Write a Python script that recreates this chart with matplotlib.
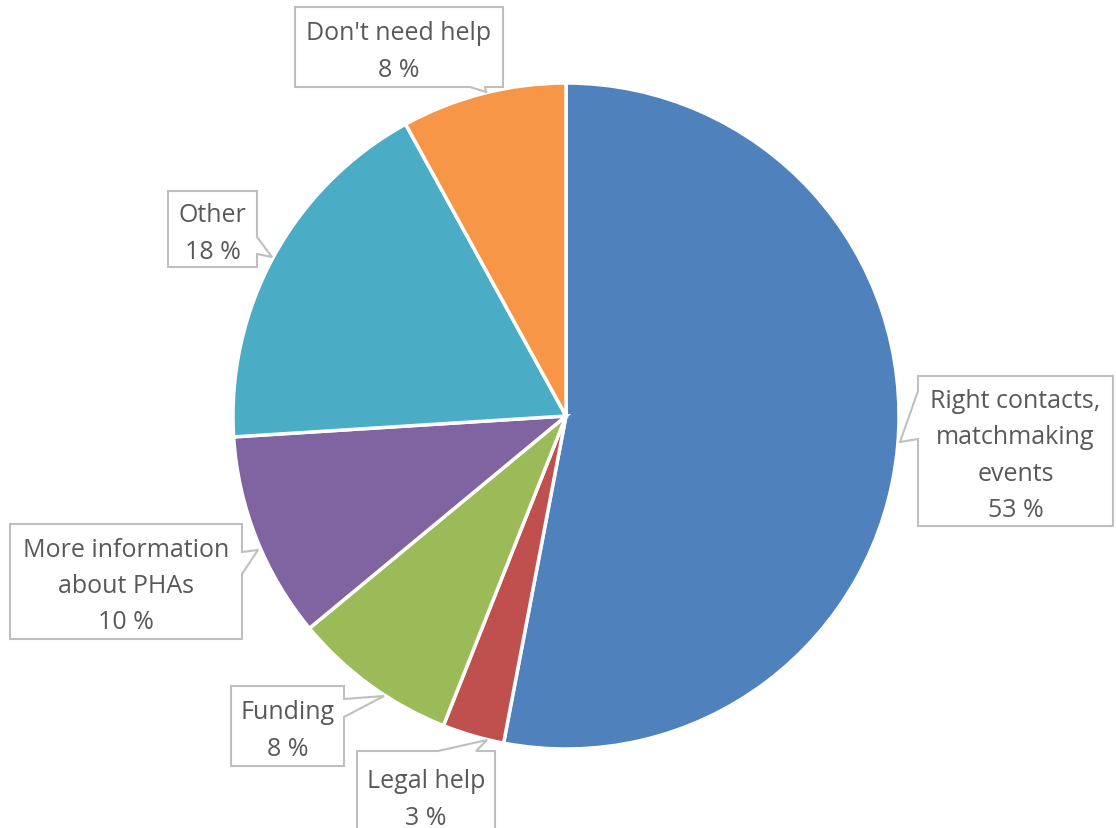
import matplotlib.pyplot as plt
from matplotlib.patches import Polygon

W, H = 1116, 829

labels = ["Right contacts,\nmatchmaking\nevents", "Legal help", "Funding",
          "More information\nabout PHAs", "Other", "Don't need help"]
values = [53, 3, 8, 10, 18, 8]
colors = ["#4F81BD", "#C0504D", "#9BBB59", "#8064A2", "#4BACC6", "#F79646"]

# callout layout in pixel coords (origin top-left):
# box (x0, y0, x1, y1), side the pointer leaves from, pointer base (a, b), tip
callouts = [
    ((918, 377, 1113, 527), "left", (392, 440), (900, 443)),
    ((357, 752, 495, 840), "top", (438, 476), (487, 741)),
    ((231, 687, 344, 767), "right", (700, 718), (384, 697)),
    ((10, 525, 242, 640), "right", (553, 575), (258, 551)),
    ((168, 192, 257, 268), "right", (238, 255), (272, 258)),
    ((295, 8, 503, 88), "bottom", (470, 485), (486, 93)),
]

plt.rcParams['font.family'] = ['Open Sans', 'DejaVu Sans']


def callout(ax, box, side, base, tip, text):
    x0, y0, x1, y1 = box
    a, b = base
    pts = [(x0, y0)]
    if side == "top":
        pts += [(a, y0), tip, (b, y0)]
    pts.append((x1, y0))
    if side == "right":
        pts += [(x1, a), tip, (x1, b)]
    pts.append((x1, y1))
    if side == "bottom":
        pts += [(b, y1), tip, (a, y1)]
    pts.append((x0, y1))
    if side == "left":
        pts += [(x0, b), tip, (x0, a)]
    pts = [(x, H - y) for x, y in pts]
    ax.add_patch(Polygon(pts, closed=True, facecolor="white",
                         edgecolor="#BFBFBF", linewidth=1.5, zorder=3))
    # nudge down a little: the text box counts the descender space below
    ax.text((x0 + x1) / 2, H - (y0 + y1) / 2 - 4, text, ha="center", va="center",
            fontsize=18, color="#595959", linespacing=1.58, zorder=4)


fig = plt.figure(figsize=(W / 100, H / 100), dpi=100)
ax = fig.add_axes([0, 0, 1, 1])
ax.pie(values, colors=colors, startangle=90, counterclock=False,
       center=(566, H - 417), radius=333,
       wedgeprops=dict(edgecolor="white", linewidth=2.5))
ax.set_xlim(0, W)
ax.set_ylim(0, H)
ax.axis("off")

for lab, val, (box, side, base, tip) in zip(labels, values, callouts):
    callout(ax, box, side, base, tip, f"{lab}\n{val} %")

fig.savefig("out.png", dpi=100)
